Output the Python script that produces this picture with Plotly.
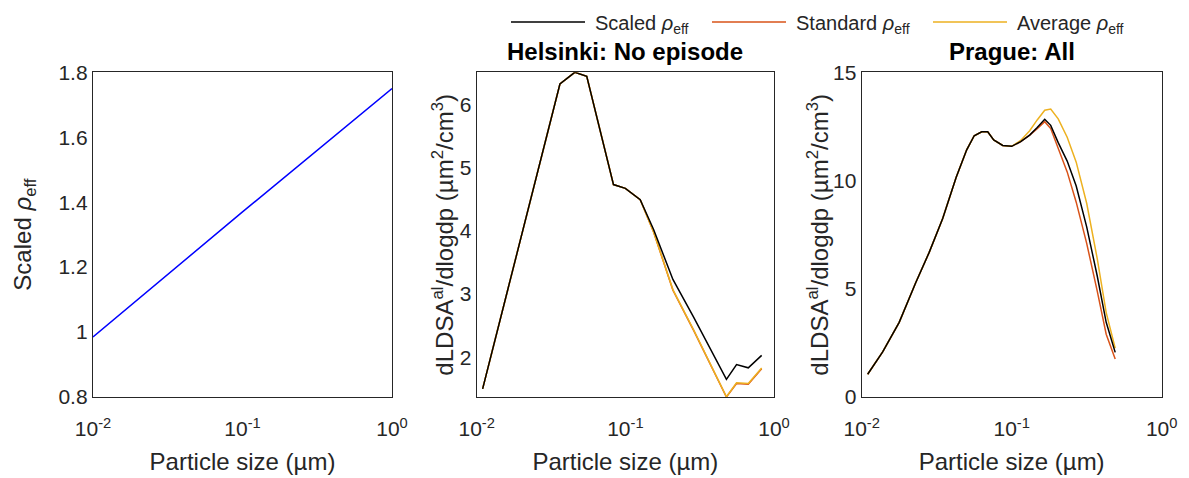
import plotly.graph_objects as go

# ---------------- data ----------------
# Left panel: scaled effective density vs particle size
left_x = [0.01, 0.1, 1.0]
left_y = [0.985, 1.37, 1.75]

# Middle panel: Helsinki, no episode
mid_x = [0.01096, 0.0302, 0.0363, 0.0457, 0.0550, 0.0832, 0.1000, 0.1259, 0.1549,
         0.2089, 0.2884, 0.4786, 0.5598, 0.6714, 0.8260]
mid_scaled = [1.50, 5.57, 6.32, 6.505, 6.44, 4.73, 4.67, 4.49, 4.02,
              3.23, 2.63, 1.65, 1.885, 1.833, 2.03]
mid_standard = [1.50, 5.57, 6.32, 6.505, 6.44, 4.73, 4.67, 4.49, 3.98,
                3.06, 2.42, 1.372, 1.585, 1.575, 1.82]
mid_average = [1.50, 5.57, 6.32, 6.505, 6.44, 4.73, 4.67, 4.49, 3.98,
               3.07, 2.43, 1.376, 1.596, 1.585, 1.83]

# Right panel: Prague, all
right_x = [0.01096, 0.01380, 0.01778, 0.02291, 0.02818, 0.03467, 0.04266, 0.05012,
           0.05623, 0.06310, 0.06918, 0.07586, 0.08710, 0.1000, 0.1148, 0.1318,
           0.1479, 0.1660, 0.1820, 0.2042, 0.2344, 0.2692, 0.3162, 0.3715,
           0.4266, 0.4898]
right_scaled = [1.05, 2.08, 3.45, 5.28, 6.68, 8.25, 10.15, 11.42, 12.07, 12.25, 12.25,
                11.88, 11.62, 11.58, 11.80, 12.10, 12.45, 12.83, 12.55, 11.75, 10.90,
                9.75, 7.86, 5.60, 3.45, 2.06]
right_standard = [1.05, 2.08, 3.45, 5.28, 6.68, 8.25, 10.15, 11.42, 12.07, 12.25, 12.25,
                  11.88, 11.62, 11.58, 11.80, 12.10, 12.40, 12.72, 12.40, 11.50, 10.40,
                  9.00, 7.10, 4.90, 2.90, 1.75]
right_average = [1.05, 2.08, 3.45, 5.28, 6.68, 8.25, 10.15, 11.42, 12.07, 12.25, 12.25,
                 11.88, 11.62, 11.58, 11.85, 12.30, 12.80, 13.25, 13.30, 12.85, 12.00,
                 10.85, 8.95, 6.40, 3.90, 2.25]

series_names = ["Scaled <i>ρ</i><sub>eff</sub>", "Standard <i>ρ</i><sub>eff</sub>",
                "Average <i>ρ</i><sub>eff</sub>"]
series_colors = ["#000000", "#D95319", "#EDB120"]
panel_titles = ["Helsinki: No episode", "Prague: All"]
y_titles = ["Scaled <i>ρ</i><sub>eff</sub>",
            "dLDSA<sup>al</sup>/dlogdp (µm<sup>2</sup>/cm<sup>3</sup>)",
            "dLDSA<sup>al</sup>/dlogdp (µm<sup>2</sup>/cm<sup>3</sup>)"]

x_tickvals = [0.01, 0.1, 1]
x_ticktext = ["10<sup>-2</sup>", "10<sup>-1</sup>", "10<sup>0</sup>"]

# ---------------- figure ----------------
W, H = 1189, 478
FONT = "Liberation Sans, Arial, Helvetica, sans-serif"
AXC = "#262626"

fig = go.Figure()

fig.add_trace(go.Scatter(x=left_x, y=left_y, mode="lines",
                         line=dict(color="#0000FF", width=1.5),
                         xaxis="x", yaxis="y", showlegend=False))

mid_series = [mid_scaled, mid_standard, mid_average]
right_series = [right_scaled, right_standard, right_average]
# draw order: standard, average, scaled (scaled on top)
for idx in [1, 2, 0]:
    fig.add_trace(go.Scatter(x=mid_x, y=mid_series[idx], mode="lines",
                             line=dict(color=series_colors[idx], width=1.5),
                             xaxis="x2", yaxis="y2", showlegend=False))
    fig.add_trace(go.Scatter(x=right_x, y=right_series[idx], mode="lines",
                             line=dict(color=series_colors[idx], width=1.5),
                             xaxis="x3", yaxis="y3", showlegend=False))

def px_x(p):
    return p / W

def px_y(p):
    return 1 - p / H

top_px, bot_px = 72.3, 397.0
ydom = [px_y(bot_px), px_y(top_px)]
xdoms = [[px_x(93), px_x(392)], [px_x(476.7), px_x(774)], [px_x(861.7), px_x(1161.7)]]

common_x = dict(type="log", range=[-2, 0], tickvals=x_tickvals, ticktext=x_ticktext,
                showline=True, mirror=True, linecolor=AXC, linewidth=1.3,
                showgrid=False, zeroline=False, ticks="", automargin=False,
                ticklabelstandoff=13,
                tickfont=dict(size=21, color=AXC, family=FONT),
                title=dict(text="Particle size (µm)", font=dict(size=24, color=AXC, family=FONT),
                           standoff=13))
common_y = dict(showline=True, mirror=True, linecolor=AXC, linewidth=1.3,
                showgrid=False, zeroline=False, ticks="", automargin=False,
                ticklabelstandoff=0,
                tickfont=dict(size=21, color=AXC, family=FONT))

mid_all = mid_scaled + mid_standard + mid_average

layout = dict(
    width=W, height=H,
    margin=dict(l=0, r=0, t=0, b=0, autoexpand=False),
    paper_bgcolor="white", plot_bgcolor="white",
    font=dict(family=FONT, color=AXC),
    showlegend=False,
    xaxis=dict(domain=xdoms[0], anchor="y", **common_x),
    xaxis2=dict(domain=xdoms[1], anchor="y2", **common_x),
    xaxis3=dict(domain=xdoms[2], anchor="y3", **common_x),
    yaxis=dict(domain=ydom, anchor="x", range=[0.8, 1.8], dtick=0.2, **common_y),
    yaxis2=dict(domain=ydom, anchor="x2", range=[min(mid_all), max(mid_all)],
                tickvals=[2, 3, 4, 5, 6], **common_y),
    yaxis3=dict(domain=ydom, anchor="x3", range=[0, 15], tickvals=[0, 5, 10, 15],
                **common_y),
)
fig.update_layout(**layout)

# y-axis titles (rotated text placed beside each axis)
ytitle_x = [25, 443, 818]
ymid = (top_px + bot_px) / 2
for t, cx in zip(y_titles, ytitle_x):
    fig.add_annotation(text=t, x=px_x(cx), y=px_y(ymid), xref="paper", yref="paper",
                       showarrow=False, textangle=-90, xanchor="center", yanchor="middle",
                       font=dict(size=24, color=AXC, family=FONT))

# panel titles
title_centers = [(476.7 + 774) / 2, (861.7 + 1161.7) / 2]
for t, cx in zip(panel_titles, title_centers):
    fig.add_annotation(text="<b>%s</b>" % t, x=px_x(cx), y=px_y(52), xref="paper", yref="paper",
                       showarrow=False, xanchor="center", yanchor="middle",
                       font=dict(size=24, color="#000000", family=FONT))

# custom legend (line samples + labels)
leg_line_starts = [511, 712, 933]
leg_line_len = 74
leg_y = 22
for name, col, x0 in zip(series_names, series_colors, leg_line_starts):
    fig.add_shape(type="line", xref="paper", yref="paper",
                  x0=px_x(x0), x1=px_x(x0 + leg_line_len), y0=px_y(leg_y), y1=px_y(leg_y),
                  line=dict(color=col, width=1.5))
    fig.add_annotation(text=name, x=px_x(x0 + leg_line_len + 8), y=px_y(leg_y + 2),
                       xref="paper", yref="paper", showarrow=False,
                       xanchor="left", yanchor="middle",
                       font=dict(size=20, color=AXC, family=FONT))

fig.write_html("out.html", config={"displayModeBar": False},
               post_script="document.body.style.margin='0';")
